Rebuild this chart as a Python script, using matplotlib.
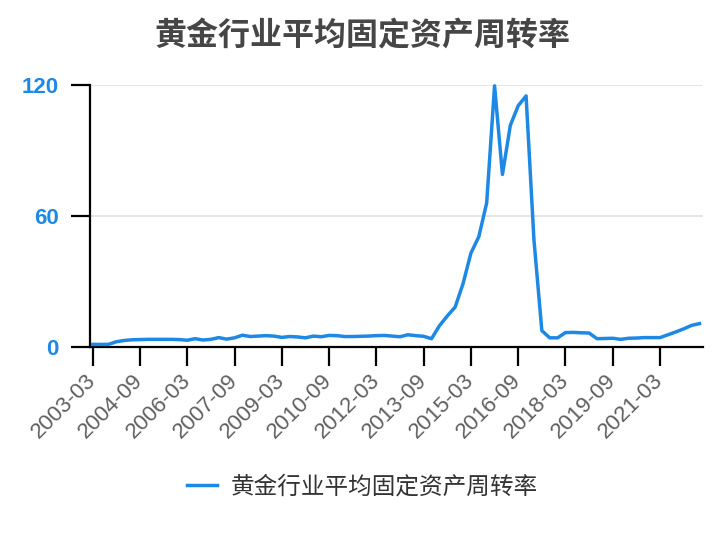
import matplotlib
matplotlib.use("Agg")
import matplotlib.pyplot as plt

plt.rcParams["font.family"] = ["Liberation Sans", "Noto Sans CJK SC", "DejaVu Sans"]

BLUE = "#1E88E5"
GRID = "#E3E3E3"
TITLE_C = "#464646"
LABEL_C = "#5f5f5f"

TITLE = "黄金行业平均固定资产周转率"
SERIES = "黄金行业平均固定资产周转率"

# quarterly, 2003-03 .. 2022-06
quarters = [f"{y}-{m:02d}" for y in range(2003, 2023) for m in (3, 6, 9, 12)][:78]
turnover = [
    1.2, 1.2, 1.2, 2.4, 3.0, 3.3, 3.4, 3.5, 3.5, 3.5,
    3.5, 3.4, 3.1, 3.8, 3.2, 3.5, 4.3, 3.6, 4.2, 5.4,
    4.8, 5.0, 5.2, 5.0, 4.4, 4.8, 4.6, 4.2, 5.0, 4.7,
    5.3, 5.2, 4.8, 4.8, 4.9, 5.0, 5.2, 5.3, 5.0, 4.7,
    5.6, 5.2, 4.9, 3.8, 9.7, 14.2, 18.3, 29.0, 43.0, 50.5,
    66.0, 119.6, 79.0, 101.5, 110.5, 115.0, 49.0, 7.5, 4.2, 4.2,
    6.6, 6.7, 6.5, 6.4, 3.8, 3.9, 4.0, 3.5, 4.0, 4.1,
    4.3, 4.3, 4.3, 5.6, 6.9, 8.3, 9.9, 10.7,
]
y_ticks = [0, 60, 120]
tick_step = 6

fig = plt.figure(figsize=(7.24, 5.4), dpi=100)
ax = fig.add_axes([89.5 / 724, 1 - 347 / 540, (703 - 89.5) / 724, (347 - 85) / 540])

xs = list(range(len(quarters)))
ax.plot(xs, turnover, color=BLUE, lw=2.5, label=SERIES, zorder=3,
        solid_joinstyle="round", clip_on=False)

ax.set_xlim(-0.4, len(quarters) - 1 + 0.45)
ax.set_ylim(0, 120)
ax.set_yticks(y_ticks)
ax.set_yticklabels([str(v) for v in y_ticks], color=BLUE, fontsize=16,
                   fontweight="bold")
for v in y_ticks[1:]:
    ax.axhline(v, color=GRID, lw=1.3, zorder=1)

xt = xs[::tick_step]
ax.set_xticks(xt)
ax.set_xticklabels([quarters[i] for i in xt], rotation=45, ha="right",
                   va="center", rotation_mode="anchor", fontsize=16,
                   color=LABEL_C)

for s in ("top", "right"):
    ax.spines[s].set_visible(False)
for s in ("left", "bottom"):
    ax.spines[s].set_linewidth(1.6)
    ax.spines[s].set_color("black")
ax.tick_params(axis="both", direction="out", length=14, width=1.6, color="black")
ax.tick_params(axis="x", pad=8)
ax.tick_params(axis="y", pad=8)

fig.text(0.5, 1 - 36 / 540, TITLE, ha="center", va="center", fontsize=23,
         fontweight="bold", color=TITLE_C, family=["Noto Sans CJK SC"])

leg = fig.legend(loc="center", bbox_to_anchor=(0.5, 1 - 487 / 540), frameon=False,
                 handlelength=1.3, handletextpad=0.55,
                 prop={"family": ["Noto Sans CJK SC"], "size": 17, "weight": "medium"})
for t in leg.get_texts():
    t.set_color("#333333")

fig.savefig("out.png", facecolor="white")
